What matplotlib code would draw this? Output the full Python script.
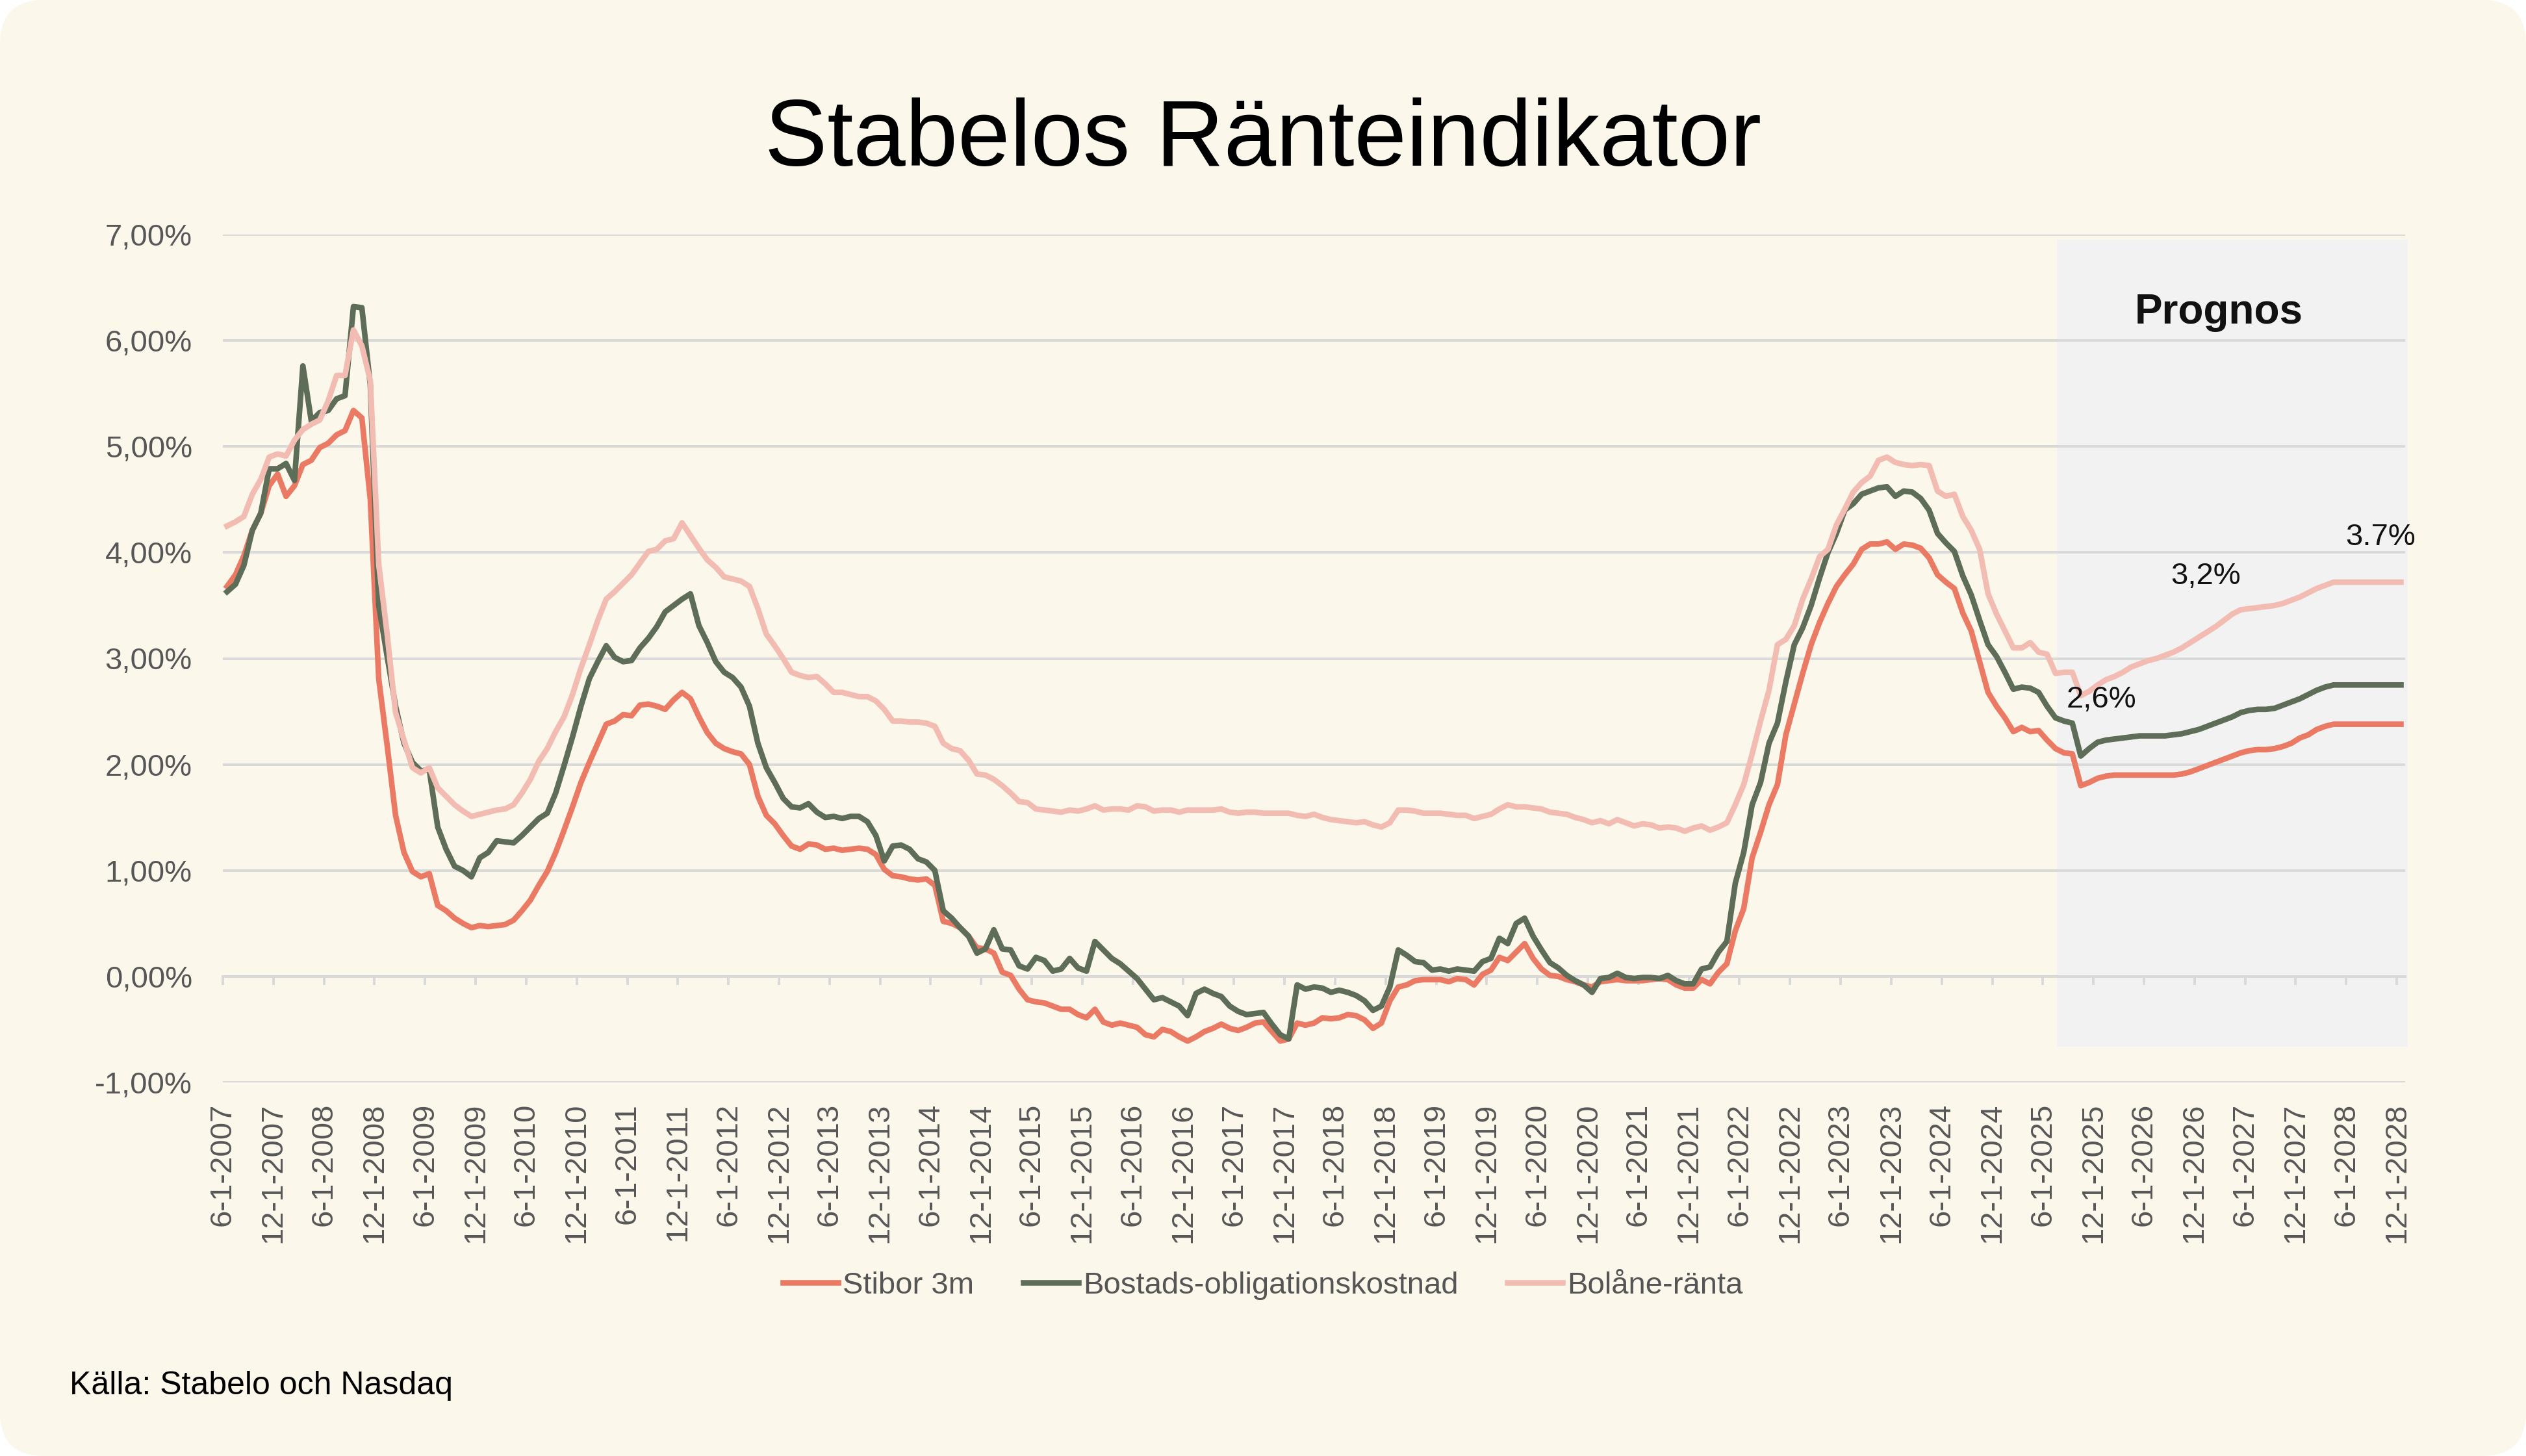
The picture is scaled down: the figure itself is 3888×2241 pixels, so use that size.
import matplotlib.pyplot as plt
from matplotlib.patches import FancyBboxPatch, Rectangle
import numpy as np
import pandas as pd

plt.rcParams['font.family'] = ['Liberation Sans', 'DejaVu Sans']

# Monthly values, June 2007 - December 2028 (from mid 2025 the values are "Prognos")
stibor_3m = [
    3.68, 3.79, 3.97, 4.21, 4.37, 4.63, 4.74, 4.53, 4.63, 4.83,
    4.87, 4.99, 5.03, 5.11, 5.15, 5.34, 5.27, 4.50, 2.81, 2.18,
    1.52, 1.17, 0.99, 0.94, 0.97, 0.67, 0.62, 0.55, 0.50, 0.46,
    0.48, 0.47, 0.48, 0.49, 0.53, 0.62, 0.72, 0.86, 0.99, 1.17,
    1.38, 1.60, 1.83, 2.02, 2.20, 2.38, 2.41, 2.47, 2.46, 2.56,
    2.57, 2.55, 2.52, 2.61, 2.68, 2.62, 2.45, 2.30, 2.20, 2.15,
    2.12, 2.10, 2.00, 1.70, 1.52, 1.44, 1.33, 1.23, 1.20, 1.25,
    1.24, 1.20, 1.21, 1.19, 1.20, 1.21, 1.20, 1.15, 1.01, 0.95,
    0.94, 0.92, 0.91, 0.92, 0.86, 0.52, 0.50, 0.46, 0.38, 0.27,
    0.26, 0.22, 0.04, 0.01, -0.12, -0.22, -0.24, -0.25, -0.28, -0.31,
    -0.31, -0.36, -0.39, -0.31, -0.43, -0.46, -0.44, -0.46, -0.48, -0.55,
    -0.57, -0.50, -0.52, -0.57, -0.61, -0.57, -0.52, -0.49, -0.45, -0.49,
    -0.51, -0.48, -0.44, -0.43, -0.52, -0.61, -0.59, -0.44, -0.46, -0.44,
    -0.39, -0.40, -0.39, -0.36, -0.37, -0.41, -0.49, -0.44, -0.23, -0.10,
    -0.08, -0.04, -0.03, -0.03, -0.03, -0.05, -0.02, -0.03, -0.08, 0.02,
    0.06, 0.18, 0.15, 0.23, 0.31, 0.17, 0.07, 0.01, 0.00, -0.03,
    -0.05, -0.08, -0.10, -0.05, -0.04, -0.03, -0.04, -0.04, -0.04, -0.03,
    -0.02, -0.03, -0.08, -0.11, -0.11, -0.03, -0.07, 0.04, 0.12, 0.43,
    0.64, 1.12, 1.36, 1.62, 1.81, 2.28, 2.57, 2.86, 3.13, 3.34,
    3.52, 3.68, 3.79, 3.89, 4.03, 4.08, 4.08, 4.10, 4.03, 4.08,
    4.07, 4.04, 3.95, 3.79, 3.72, 3.66, 3.43, 3.26, 2.97, 2.68,
    2.55, 2.44, 2.31, 2.35, 2.31, 2.32, 2.23, 2.15, 2.11, 2.10,
    1.80, 1.83, 1.87, 1.89, 1.90, 1.90, 1.90, 1.90, 1.90, 1.90,
    1.90, 1.90, 1.91, 1.93, 1.96, 1.99, 2.02, 2.05, 2.08, 2.11,
    2.13, 2.14, 2.14, 2.15, 2.17, 2.20, 2.25, 2.28, 2.33, 2.36,
    2.38, 2.38, 2.38, 2.38, 2.38, 2.38, 2.38, 2.38, 2.38,
]

bostads_obligationskostnad = [
    3.63, 3.70, 3.88, 4.21, 4.37, 4.79, 4.79, 4.84, 4.68, 5.76,
    5.24, 5.32, 5.34, 5.45, 5.48, 6.32, 6.31, 5.58, 3.50, 3.02,
    2.55, 2.20, 2.02, 1.94, 1.95, 1.41, 1.20, 1.04, 1.00, 0.94,
    1.12, 1.17, 1.28, 1.27, 1.26, 1.33, 1.41, 1.49, 1.54, 1.73,
    1.99, 2.26, 2.55, 2.81, 2.97, 3.12, 3.01, 2.97, 2.98, 3.10,
    3.19, 3.30, 3.44, 3.50, 3.56, 3.61, 3.31, 3.15, 2.97, 2.87,
    2.82, 2.73, 2.55, 2.20, 1.97, 1.83, 1.68, 1.60, 1.59, 1.63,
    1.55, 1.50, 1.51, 1.49, 1.51, 1.51, 1.46, 1.33, 1.09, 1.23,
    1.24, 1.20, 1.11, 1.08, 1.00, 0.62, 0.55, 0.46, 0.38, 0.22,
    0.26, 0.44, 0.26, 0.25, 0.10, 0.07, 0.18, 0.15, 0.05, 0.07,
    0.17, 0.08, 0.05, 0.33, 0.25, 0.17, 0.12, 0.05, -0.02, -0.12,
    -0.22, -0.20, -0.24, -0.28, -0.37, -0.16, -0.12, -0.16, -0.19, -0.28,
    -0.33, -0.36, -0.35, -0.34, -0.45, -0.55, -0.59, -0.08, -0.12, -0.10,
    -0.11, -0.15, -0.13, -0.15, -0.18, -0.23, -0.32, -0.28, -0.10, 0.25,
    0.20, 0.14, 0.13, 0.06, 0.07, 0.05, 0.07, 0.06, 0.05, 0.14,
    0.17, 0.36, 0.31, 0.50, 0.55, 0.38, 0.25, 0.13, 0.08, 0.01,
    -0.04, -0.08, -0.15, -0.02, -0.01, 0.03, -0.01, -0.02, -0.01, -0.01,
    -0.02, 0.01, -0.04, -0.07, -0.07, 0.07, 0.09, 0.23, 0.33, 0.88,
    1.17, 1.62, 1.83, 2.20, 2.39, 2.78, 3.13, 3.29, 3.50, 3.76,
    4.00, 4.18, 4.40, 4.46, 4.55, 4.58, 4.61, 4.62, 4.53, 4.58,
    4.57, 4.51, 4.40, 4.18, 4.09, 4.01, 3.78, 3.60, 3.36, 3.13,
    3.02, 2.87, 2.71, 2.73, 2.72, 2.68, 2.55, 2.44, 2.41, 2.39,
    2.08, 2.15, 2.21, 2.23, 2.24, 2.25, 2.26, 2.27, 2.27, 2.27,
    2.27, 2.28, 2.29, 2.31, 2.33, 2.36, 2.39, 2.42, 2.45, 2.49,
    2.51, 2.52, 2.52, 2.53, 2.56, 2.59, 2.62, 2.66, 2.70, 2.73,
    2.75, 2.75, 2.75, 2.75, 2.75, 2.75, 2.75, 2.75, 2.75,
]

bolane_ranta = [
    4.25, 4.29, 4.34, 4.55, 4.69, 4.90, 4.93, 4.91, 5.06, 5.16,
    5.21, 5.25, 5.43, 5.67, 5.67, 6.10, 5.95, 5.62, 3.89, 3.23,
    2.49, 2.23, 1.97, 1.92, 1.97, 1.78, 1.70, 1.62, 1.56, 1.51,
    1.53, 1.55, 1.57, 1.58, 1.62, 1.73, 1.86, 2.03, 2.15, 2.31,
    2.45, 2.66, 2.91, 3.13, 3.36, 3.56, 3.63, 3.71, 3.79, 3.90,
    4.01, 4.03, 4.11, 4.13, 4.28, 4.16, 4.04, 3.93, 3.86, 3.77,
    3.75, 3.73, 3.68, 3.47, 3.23, 3.12, 3.00, 2.87, 2.84, 2.82,
    2.83, 2.76, 2.68, 2.68, 2.66, 2.64, 2.64, 2.60, 2.52, 2.41,
    2.41, 2.40, 2.40, 2.39, 2.36, 2.20, 2.15, 2.13, 2.04, 1.91,
    1.90, 1.86, 1.80, 1.73, 1.65, 1.64, 1.58, 1.57, 1.56, 1.55,
    1.57, 1.56, 1.58, 1.61, 1.57, 1.58, 1.58, 1.57, 1.61, 1.60,
    1.56, 1.57, 1.57, 1.55, 1.57, 1.57, 1.57, 1.57, 1.58, 1.55,
    1.54, 1.55, 1.55, 1.54, 1.54, 1.54, 1.54, 1.52, 1.51, 1.53,
    1.50, 1.48, 1.47, 1.46, 1.45, 1.46, 1.43, 1.41, 1.45, 1.57,
    1.57, 1.56, 1.54, 1.54, 1.54, 1.53, 1.52, 1.52, 1.49, 1.51,
    1.53, 1.58, 1.62, 1.60, 1.60, 1.59, 1.58, 1.55, 1.54, 1.53,
    1.50, 1.48, 1.45, 1.47, 1.44, 1.48, 1.45, 1.42, 1.44, 1.43,
    1.40, 1.41, 1.40, 1.37, 1.40, 1.42, 1.38, 1.41, 1.45, 1.62,
    1.81, 2.10, 2.41, 2.70, 3.13, 3.18, 3.31, 3.56, 3.75, 3.96,
    4.03, 4.26, 4.41, 4.57, 4.66, 4.72, 4.87, 4.90, 4.85, 4.83,
    4.82, 4.83, 4.82, 4.58, 4.53, 4.55, 4.34, 4.21, 4.03, 3.61,
    3.42, 3.26, 3.10, 3.10, 3.15, 3.06, 3.04, 2.86, 2.87, 2.87,
    2.65, 2.69, 2.75, 2.80, 2.83, 2.87, 2.92, 2.95, 2.98, 3.00,
    3.03, 3.06, 3.10, 3.15, 3.20, 3.25, 3.30, 3.36, 3.42, 3.46,
    3.47, 3.48, 3.49, 3.50, 3.52, 3.55, 3.58, 3.62, 3.66, 3.69,
    3.72, 3.72, 3.72, 3.72, 3.72, 3.72, 3.72, 3.72, 3.72,
]

series_names = ["Stibor 3m", "Bostads-obligationskostnad", "Bolåne-ränta"]
series_colors = ["#EB7A64", "#5E6D57", "#F2BCB2"]

# x axis: one step per month, ticks every 6 months
tick_dates = pd.date_range("2007-06-01", "2028-12-01", freq="6MS")
tick_labels = [f"{d.month}-1-{d.year}" for d in tick_dates]

y_ticks = [-1, 0, 1, 2, 3, 4, 5, 6, 7]
y_labels = ["-1,00%", "0,00%", "1,00%", "2,00%", "3,00%", "4,00%", "5,00%", "6,00%", "7,00%"]

# prognos labels
prognos_labels = ["2,6%", "3,2%", "3.7%"]

W, H = 3888, 2241
DPI = 200
fig = plt.figure(figsize=(W / DPI, H / DPI), dpi=DPI, facecolor="white")

# cream card with rounded corners
bg = fig.add_axes([0, 0, 1, 1], zorder=-10)
bg.set_xlim(0, W)
bg.set_ylim(0, H)
bg.axis("off")
bg.add_patch(FancyBboxPatch((0, 0), W, H, boxstyle="round,pad=0,rounding_size=68",
                            fc="#FBF7EB", ec="none"))

ax = fig.add_axes([343 / W, 1 - 1666 / H, (3702 - 343) / W, (1666 - 361) / H])
ax.patch.set_alpha(0)

n = len(stibor_3m)
x = np.arange(n) + 0.5
tick_pos = np.arange(0, n, 6)

# Prognos area
ax.add_patch(Rectangle((217.7, -0.66), 259.3 - 217.7, 6.95 + 0.66, fc="#F2F2F2",
                       ec="none", zorder=0, clip_on=False))

for vals, name, col in zip([stibor_3m, bostads_obligationskostnad, bolane_ranta],
                           series_names, series_colors):
    ax.plot(x, vals, color=col, lw=3.1, label=name, solid_joinstyle="round", zorder=3)

ax.set_xlim(0, 259)
ax.set_ylim(-1, 7)
ax.set_yticks(y_ticks, y_labels)
ax.yaxis.grid(True, color="#D9D9D9", lw=1.4)
ax.set_axisbelow(True)
ax.tick_params(axis="y", length=0, pad=17, labelsize=17, labelcolor="#575757")

for s in ["left", "right", "top"]:
    ax.spines[s].set_visible(False)
ax.spines["bottom"].set_position(("data", 0))
ax.spines["bottom"].set_color("#D9D9D9")
ax.spines["bottom"].set_linewidth(1.4)
ax.set_xticks(tick_pos)
ax.tick_params(axis="x", length=4.5, width=1.4, color="#D9D9D9", labelbottom=False)

sec = ax.secondary_xaxis(0)
sec.set_xticks(tick_pos, tick_labels, rotation=90)
sec.tick_params(length=0, pad=11.5, labelsize=17, labelcolor="#575757")
sec.spines["bottom"].set_visible(False)

ax.text(236.9, 6.16, "Prognos", ha="center", va="baseline", fontsize=23,
        fontweight="bold", color="#111111")
ax.text(222.97, 2.54, prognos_labels[0], ha="center", va="baseline", fontsize=17, color="#111111")
ax.text(235.3, 3.70, prognos_labels[1], ha="center", va="baseline", fontsize=17, color="#111111")
ax.text(256.1, 4.07, prognos_labels[2], ha="center", va="baseline", fontsize=17, color="#111111")

fig.text(0.5, 1 - 255 / H, "Stabelos Ränteindikator", ha="center", va="baseline",
         fontsize=52, color="black")

fig.legend(loc="center", bbox_to_anchor=(0.5, 1 - 1979 / H), ncol=3, frameon=False,
           fontsize=17, handlelength=1.8, handletextpad=0.15, columnspacing=1.6,
           labelcolor="#555555")

fig.text(107 / W, 1 - 2146 / H, "Källa: Stabelo och Nasdaq", ha="left", va="baseline",
         fontsize=18, color="black")

fig.savefig("out.png", dpi=DPI, facecolor="white")
